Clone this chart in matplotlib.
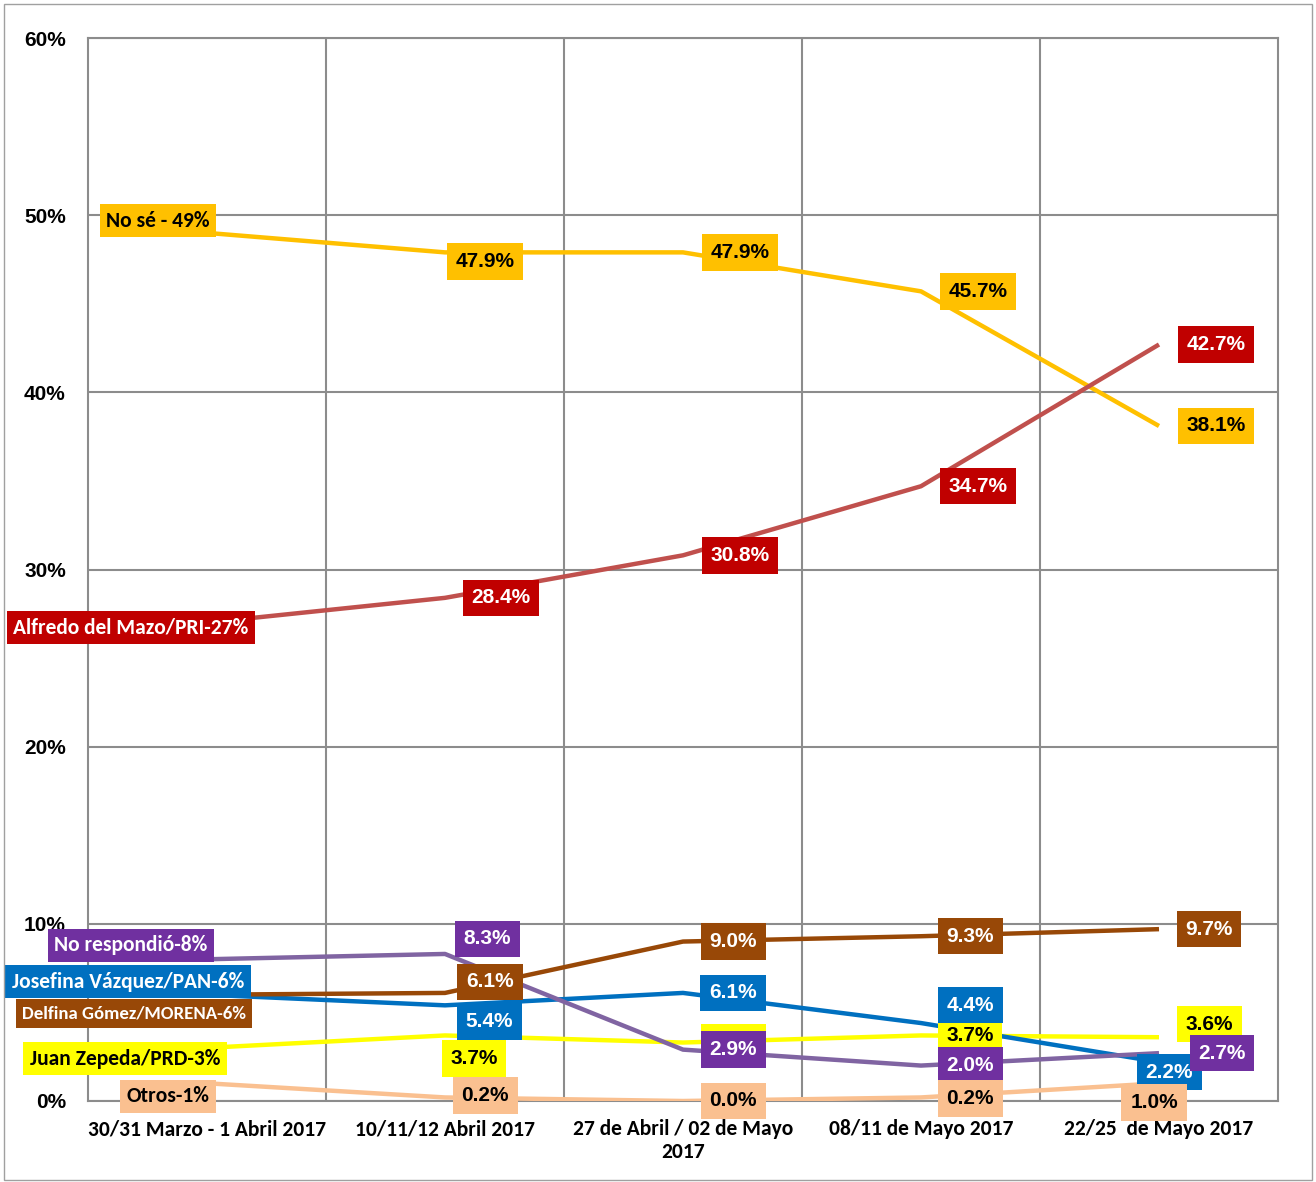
import matplotlib
matplotlib.use("Agg")
import matplotlib.pyplot as plt
from matplotlib.patches import Rectangle

# fechas de las encuestas
fechas = ['30/31 Marzo - 1 Abril 2017', '10/11/12 Abril 2017',
          '27 de Abril / 02 de Mayo\n2017', '08/11 de Mayo 2017', '22/25  de Mayo 2017']

# series (porcentajes)
no_se = [49.0, 47.9, 47.9, 45.7, 38.1]
pri = [27.0, 28.4, 30.8, 34.7, 42.7]
prd = [3.0, 3.7, 3.3, 3.7, 3.6]
pan = [6.0, 5.4, 6.1, 4.4, 2.2]
morena = [6.0, 6.1, 9.0, 9.3, 9.7]
no_resp = [8.0, 8.3, 2.9, 2.0, 2.7]
otros = [1.0, 0.2, 0.0, 0.2, 1.0]

nombres = ['No sé - 49%', 'Alfredo del Mazo/PRI-27%', 'Juan Zepeda/PRD-3%',
           'Josefina Vázquez/PAN-6%', 'Delfina Gómez/MORENA-6%',
           'No respondió-8%', 'Otros-1%']
tam_nombres = [15.5, 15.5, 15.5, 15.5, 13.5, 15.5, 15.5]

# estilo: (color linea, color caja, color texto)
estilos = [('#FFC000', '#FFC000', 'black'),
           ('#C0504D', '#C00000', 'white'),
           ('#FFFF00', '#FFFF00', 'black'),
           ('#0070C0', '#0070C0', 'white'),
           ('#984807', '#984807', 'white'),
           ('#8064A2', '#7030A0', 'white'),
           ('#FAC090', '#FAC090', 'black')]

# desplazamientos de las etiquetas (pixeles)
offsets = [
    [(-49, 12), (40, -9), (57, 0), (57, 0), (57, 0)],
    [(-76, -5), (56, 0), (57, 0), (57, 0), (57, 0)],
    [(-82, -11), (29, -23), (50, 0), (49, 0), (50, 13)],
    [(-79, 13), (44, -16), (50, 0), (49, 18), (10, -10)],
    [(-73, -19), (45, 11), (50, 0), (49, 0), (50, 0)],
    [(-76, 14), (42, 15), (50, 0), (49, 0), (63, 0)],
    [(-39, -13), (40, 2), (50, 0), (49, -1), (-5, -19)],
]

series = [no_se, pri, prd, pan, morena, no_resp, otros]

fig = plt.figure(figsize=(13.16, 11.82), dpi=100)
ax = fig.add_axes([88 / 1316, 1 - 1101 / 1182, (1278 - 88) / 1316, (1101 - 38) / 1182])

x = list(range(len(fechas)))
for i, vals in enumerate(series):
    ax.plot(x, vals, color=estilos[i][0], lw=3.2, solid_capstyle='butt', zorder=3)

zo = 10
for i, vals in enumerate(series):
    lc, bc, tc = estilos[i]
    for j, v in enumerate(vals):
        if j == 0:
            txt = nombres[i]
            fam = ['Carlito', 'DejaVu Sans']
            fs = tam_nombres[i]
            pad = 0.3 * 15.5 / fs
        else:
            txt = '%.1f%%' % v
            fam = ['Liberation Sans', 'DejaVu Sans']
            fs = 15
            pad = 0.42
        ax.annotate(txt, (j, v), xytext=offsets[i][j], textcoords='offset pixels',
                    ha='center', va='center', fontsize=fs, fontweight='bold',
                    family=fam, color=tc, zorder=zo, annotation_clip=False,
                    bbox=dict(boxstyle='square,pad=%.3f' % pad, fc=bc, ec='none'))
        zo += 1

ax.set_xlim(-0.5, 4.5)
ax.set_ylim(0, 60)
ax.set_yticks(range(0, 61, 10))
ax.set_yticklabels(['%d%%' % t for t in range(0, 61, 10)], fontsize=15,
                   fontweight='bold', family='Liberation Sans')
ax.set_xticks([0.5, 1.5, 2.5, 3.5], minor=True)
ax.set_xticks(x)
ax.set_xticklabels(fechas, fontsize=15.5, fontweight='bold', family='Carlito')
ax.tick_params(axis='both', which='both', length=0)
ax.tick_params(axis='y', pad=16)
ax.tick_params(axis='x', pad=13)
ax.grid(True, which='minor', axis='x', color='#8C8C8C', lw=1.5)
ax.grid(True, which='major', axis='y', color='#8C8C8C', lw=1.5)
for s in ax.spines.values():
    s.set_color('#8C8C8C')
    s.set_linewidth(1.5)
ax.set_axisbelow(True)

fig.patches.append(Rectangle((4 / 1316, 2 / 1182), 1308 / 1316, 1176 / 1182,
                             transform=fig.transFigure, fill=False,
                             ec='#A0A0A0', lw=1))

fig.savefig('out.png', dpi=100)
